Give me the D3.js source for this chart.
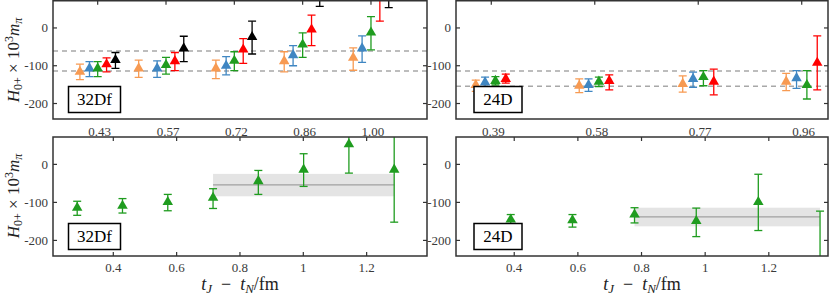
<!DOCTYPE html>
<html>
  <head>
    <meta charset="UTF-8" />
    <script src="https://cdn.jsdelivr.net/npm/d3@7"></script>
    <title>H0+ panels</title>
    <style type="text/css">
      body { margin: 0; background: #fff; }
      text { font-family: "Liberation Serif", "DejaVu Serif", serif; fill: #3a3a3a; }
    </style>
  </head>
  <body>
    <div id="chartcontainer"></div>
    <script>
      // ---- data ----
      // top panels: x is an offset from the group tick, in "group" units
      const tlGroups = ["0.43", "0.57", "0.72", "0.86", "1.00"];
      const tlDashes = [-61, -114];
      const tlOrange = { x: [-0.26, -0.4, -0.27, -0.27, -0.26], y: [-116, -107, -107, -88, -79], lo: [-137, -131, -134, -116, -112], hi: [-96, -85, -85, -63, -53] };
      const tlBlue = { x: [-0.12, -0.13, -0.12, -0.14, -0.13], y: [-107, -107, -100, -72, -54], lo: [-129, -131, -124, -100, -91], hi: [-89, -87, -76, -47, -21] };
      const tlGreen = { x: [0, 0, 0, 0, 0], y: [-107, -98, -87, -44, -12], lo: [-129, -122, -113, -78, -58], hi: [-89, -78, -63, -13, 30] };
      const tlRed = { x: [0.13, 0.13, 0.13, 0.13, 0.13], y: [-96, -88, -57, -4, 85], lo: [-116, -113, -94, -47, 18], hi: [-79, -65, -28, 34, 150] };
      const tlBlack = { x: [0.26, 0.26, 0.26, 0.25, 0.26], y: [-85, -54, -24, 105, 105], lo: [-107, -89, -69, 57, 54], hi: [-65, -22, 18, 150, 155] };

      const trGroups = ["0.39", "0.58", "0.77", "0.96"];
      const trDashes = [-114, -154];
      const trOrange = { x: [-0.15, -0.15, -0.15, -0.15], y: [-151, -153, -148, -142], lo: [-168, -171, -170, -166], hi: [-138, -135, -127, -120] };
      const trBlue = { x: [-0.06, -0.06, -0.05, -0.05], y: [-144, -151, -135, -133], lo: [-161, -168, -157, -160], hi: [-130, -135, -117, -113] };
      const trGreen = { x: [0.04, 0.04, 0.05, 0.05], y: [-140, -142, -130, -151], lo: [-151, -155, -153, -188], hi: [-129, -130, -113, -113] };
      const trRed = { x: [0.14, 0.14, 0.15, 0.15], y: [-135, -140, -142, -92], lo: [-146, -164, -177, -164], hi: [-122, -124, -109, -21] };

      // bottom panels: x is t_J - t_N in fm
      const blT = [0.286, 0.429, 0.572, 0.715, 0.858, 1.001, 1.144, 1.287];
      const blY = [-114, -109, -99, -88, -44, -14, 53, -14];
      const blLo = [-134, -128, -122, -116, -79, -58, -23, -152];
      const blHi = [-97, -90, -79, -64, -16, 28, 129, 124];
      const blFit = { from: 0.715, to: 1.287, lo: -84, mid: -54, hi: -25 };

      const brT = [0.389, 0.583, 0.778, 0.972, 1.167, 1.361];
      const brY = [-145, -147, -132, -149, -99, -380];
      const brLo = [-156, -165, -154, -190, -174, -640];
      const brHi = [-132, -132, -114, -115, -26, -123];
      const brFit = { from: 0.778, to: 1.361, lo: -163, mid: -138, hi: -114 };

      const yTicks = [0, -100, -200];
      const bottomTicks = [0.4, 0.6, 0.8, 1, 1.2];

      const colors = { orange: "#f79a52", blue: "#3f86c2", green: "#1f9c1f", red: "#ff0000", black: "#000000" };

      var svg = d3.select("#chartcontainer").append("svg")
        .attr("width", 830).attr("height", 298);

      var yDomain = [-241, 72];

      // group index + offset gives the x position on the top panels
      function zip(s) {
        return s.y.map(function (v, i) { return { x: i + s.x[i], y: v, lo: s.lo[i], hi: s.hi[i] }; });
      }

      // draws y ticks and label box; returns group + scales
      function panel(id, x0, x1, y0, y1, xDomain, name) {
        var g = svg.append("g");
        var x = d3.scaleLinear().domain(xDomain).range([x0, x1]);
        var y = d3.scaleLinear().domain(yDomain).range([y1, y0]);
        g.append("clipPath").attr("id", id).append("rect")
          .attr("x", x0).attr("y", y0).attr("width", x1 - x0).attr("height", y1 - y0);
        var plot = g.append("g").attr("clip-path", "url(#" + id + ")");
        var axes = g.append("g");
        yTicks.forEach(function (t) {
          axes.append("line").attr("x1", x0).attr("x2", x0 + 4).attr("y1", y(t)).attr("y2", y(t))
            .attr("stroke", "#333").attr("stroke-width", 1.2);
          axes.append("line").attr("x1", x1).attr("x2", x1 - 4).attr("y1", y(t)).attr("y2", y(t))
            .attr("stroke", "#333").attr("stroke-width", 1.2);
          axes.append("text").attr("x", x0 - 5).attr("y", y(t) + 4.5)
            .attr("text-anchor", "end").attr("font-size", 13).text(String(t));
        });
        var box = axes.append("g");
        var bx = x0 + (name.length > 3 ? 15.5 : 18);
        var bw = name.length > 3 ? 52 : 48;
        box.append("rect").attr("x", bx).attr("y", y1 - 32.5)
          .attr("width", bw).attr("height", 26)
          .attr("fill", "#fff").attr("stroke", "#000").attr("stroke-width", 1.5);
        box.append("text").attr("x", bx + bw / 2).attr("y", y1 - 14)
          .attr("text-anchor", "middle").attr("font-size", 17).style("fill", "#000").text(name);
        return { g: g, plot: plot, axes: axes, x: x, y: y, x0: x0, x1: x1, y0: y0, y1: y1 };
      }

      function frame(p) {
        p.axes.insert("rect", ":first-child").attr("x", p.x0).attr("y", p.y0)
          .attr("width", p.x1 - p.x0).attr("height", p.y1 - p.y0)
          .attr("fill", "none").attr("stroke", "#333").attr("stroke-width", 1.5);
      }

      function errorPoints(p, pts, color) {
        var eb = p.plot.append("g").attr("stroke", color).attr("stroke-width", 1.3).attr("fill", "none");
        pts.forEach(function (d) {
          var cx = p.x(d.x);
          eb.append("line").attr("x1", cx).attr("x2", cx).attr("y1", p.y(d.lo)).attr("y2", p.y(d.hi));
          eb.append("line").attr("x1", cx - 4).attr("x2", cx + 4).attr("y1", p.y(d.lo)).attr("y2", p.y(d.lo));
          eb.append("line").attr("x1", cx - 4).attr("x2", cx + 4).attr("y1", p.y(d.hi)).attr("y2", p.y(d.hi));
        });
        p.plot.append("g").selectAll("path").data(pts).join("path")
          .attr("d", d3.symbol().type(d3.symbolTriangle).size(48))
          .attr("transform", function (d) { return "translate(" + p.x(d.x) + "," + p.y(d.y) + ")"; })
          .attr("fill", color);
      }

      function topPanel(id, x0, x1, xDomain, groups, dashes, series, name) {
        var p = panel(id, x0, x1, 0.75, 119, xDomain, name);
        dashes.forEach(function (v) {
          p.plot.append("line").attr("x1", x0).attr("x2", x1).attr("y1", p.y(v)).attr("y2", p.y(v))
            .attr("stroke", "#a8a8a8").attr("stroke-width", 1.5).attr("stroke-dasharray", "5,4");
        });
        series.forEach(function (s) { errorPoints(p, zip(s[0]), s[1]); });
        groups.forEach(function (lab, i) {
          p.axes.append("line").attr("x1", p.x(i)).attr("x2", p.x(i)).attr("y1", p.y0).attr("y2", p.y0 + 4)
            .attr("stroke", "#333").attr("stroke-width", 1.2);
          p.axes.append("text").attr("x", p.x(i) + 2).attr("y", 136)
            .attr("text-anchor", "middle").attr("font-size", 13).text(lab);
        });
        frame(p);
        return p;
      }

      function bottomPanel(id, x0, x1, xDomain, t, yv, lo, hi, fit, name) {
        var p = panel(id, x0, x1, 137, 256, xDomain, name);
        p.plot.append("rect").attr("x", p.x(fit.from)).attr("width", p.x(fit.to) - p.x(fit.from))
          .attr("y", p.y(fit.hi)).attr("height", p.y(fit.lo) - p.y(fit.hi)).attr("fill", "#e4e4e4");
        p.plot.append("line").attr("x1", p.x(fit.from)).attr("x2", p.x(fit.to))
          .attr("y1", p.y(fit.mid)).attr("y2", p.y(fit.mid)).attr("stroke", "#a0a0a0").attr("stroke-width", 1.2);
        var pts = t.map(function (v, i) { return { x: v, y: yv[i], lo: lo[i], hi: hi[i] }; });
        errorPoints(p, pts, colors.green);
        bottomTicks.forEach(function (v) {
          p.axes.append("line").attr("x1", p.x(v)).attr("x2", p.x(v)).attr("y1", p.y0).attr("y2", p.y0 + 4)
            .attr("stroke", "#333").attr("stroke-width", 1.2);
          p.axes.append("line").attr("x1", p.x(v)).attr("x2", p.x(v)).attr("y1", p.y1).attr("y2", p.y1 - 4)
            .attr("stroke", "#333").attr("stroke-width", 1.2);
          p.axes.append("text").attr("x", p.x(v)).attr("y", 272)
            .attr("text-anchor", "middle").attr("font-size", 13).text(String(v));
        });
        frame(p);
        // x axis title
        var xt = p.axes.append("text").attr("x", (x0 + x1) / 2).attr("y", 290)
          .attr("text-anchor", "middle").attr("font-size", 18).style("fill", "#222");
        xt.append("tspan").attr("font-style", "italic").text("t");
        xt.append("tspan").attr("font-style", "italic").attr("font-size", 13).attr("dy", 3).text("J");
        xt.append("tspan").attr("dy", -3).text("\u2002\u2212\u2002");
        xt.append("tspan").attr("font-style", "italic").text("t");
        xt.append("tspan").attr("font-style", "italic").attr("font-size", 13).attr("dy", 3).text("N");
        xt.append("tspan").attr("dy", -3).text("/fm");
        return p;
      }

      function yLabel(cy) {
        var t = svg.append("text").attr("transform", "translate(19," + cy + ") rotate(-90)")
          .attr("text-anchor", "middle").attr("font-size", 17).style("fill", "#222");
        t.append("tspan").attr("font-style", "italic").text("H");
        t.append("tspan").attr("font-size", 12).attr("dy", 3).text("0+");
        t.append("tspan").attr("dy", -3).text(" \u00d7 10");
        t.append("tspan").attr("font-size", 12).attr("dy", -6).text("3");
        t.append("tspan").attr("font-style", "italic").attr("dy", 6).text("m");
        t.append("tspan").attr("font-style", "italic").attr("font-size", 12).attr("dy", 3).text("\u03c0");
      }

      topPanel("clipTL", 53, 427, [-0.654, 4.82], tlGroups, tlDashes,
        [[tlOrange, colors.orange], [tlBlue, colors.blue], [tlGreen, colors.green], [tlRed, colors.red], [tlBlack, colors.black]], "32Df");
      topPanel("clipTR", 456, 828, [-0.341, 3.254], trGroups, trDashes,
        [[trOrange, colors.orange], [trBlue, colors.blue], [trGreen, colors.green], [trRed, colors.red]], "24D");
      bottomPanel("clipBL", 53, 427, [0.2096, 1.3906], blT, blY, blLo, blHi, blFit, "32Df");
      bottomPanel("clipBR", 456, 828, [0.217, 1.386], brT, brY, brLo, brHi, brFit, "24D");
      yLabel(60);
      yLabel(196);
    </script>
  </body>
</html>
